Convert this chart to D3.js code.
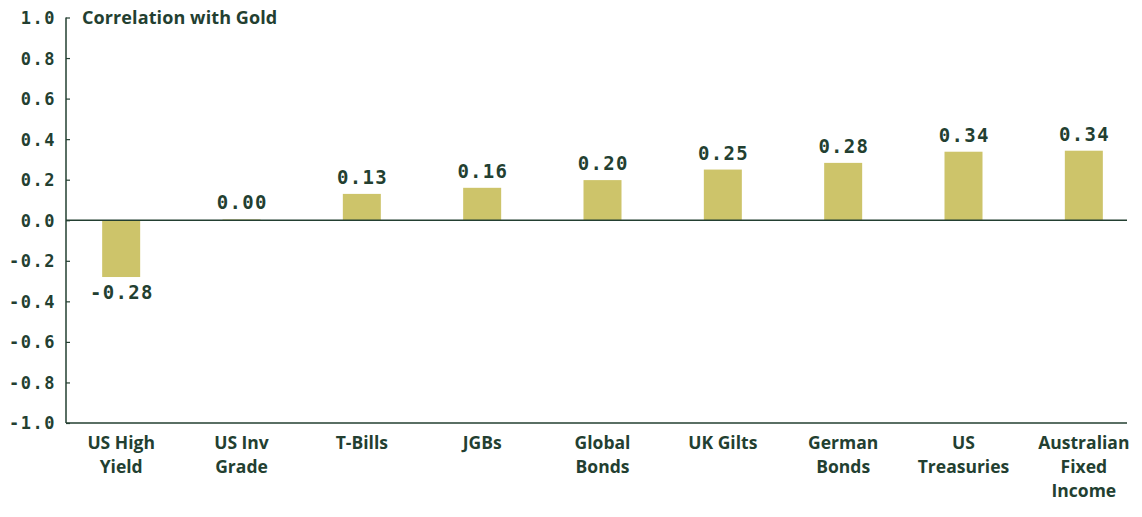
<!DOCTYPE html>
<html>
<head>
<meta charset="utf-8">
<script src="https://cdn.jsdelivr.net/npm/d3@7"></script>
<style>
  body { margin: 0; background: #fff; }
  svg { display: block; }
</style>
</head>
<body>
<div id="chart"></div>
<script>
const categories = [
  ["US High", "Yield"],
  ["US Inv", "Grade"],
  ["T-Bills"],
  ["JGBs"],
  ["Global", "Bonds"],
  ["UK Gilts"],
  ["German", "Bonds"],
  ["US", "Treasuries"],
  ["Australian", "Fixed", "Income"]
];
const correlations = [-0.28, 0.004, 0.13, 0.16, 0.198, 0.25, 0.283, 0.338, 0.343];
const yTicks = [1.0, 0.8, 0.6, 0.4, 0.2, 0.0, -0.2, -0.4, -0.6, -0.8, -1.0];
const title = "Correlation with Gold";

const W = 1142, H = 517;
const ink = "#233f31";
const barColor = "#cdc46a";
const monoFont = "'DejaVu Sans Mono', 'Liberation Mono', monospace";
const sansFont = "'Open Sans', Roboto, sans-serif";

const svg = d3.select("#chart").append("svg")
  .attr("width", W)
  .attr("height", H);

const y = d3.scaleLinear().domain([-1, 1]).range([423, 17.5]);
const x = d3.scaleBand()
  .domain(d3.range(categories.length))
  .range([61, 1144]);
const barW = 38;
const axisLeft = 66, axisRight = 1127;

// y axis
const yAxis = svg.append("g")
  .attr("transform", `translate(${axisLeft},0)`)
  .call(d3.axisRight(y).tickValues(yTicks).tickSize(4).tickFormat(d3.format(".1f")));
yAxis.select(".domain").attr("stroke", ink).attr("stroke-width", 1.5)
  .attr("d", `M0,${y(1)}V${y(-1)}`);
yAxis.selectAll(".tick line").attr("stroke", ink).attr("stroke-width", 1.2);
yAxis.selectAll(".tick text")
  .attr("x", -10)
  .attr("dy", "0.35em")
  .attr("text-anchor", "end")
  .attr("fill", ink)
  .style("font-family", monoFont)
  .style("font-weight", "bold")
  .style("font-size", "17px")
  .style("letter-spacing", "1.5px")
  .text(d => d3.format(".1f")(d).replace("−", "-"));

// bottom axis line
svg.append("line")
  .attr("x1", axisLeft).attr("x2", axisRight)
  .attr("y1", y(-1)).attr("y2", y(-1))
  .attr("stroke", ink).attr("stroke-width", 1.5);

// bars
svg.selectAll("rect.bar")
  .data(correlations)
  .enter().append("rect")
  .attr("class", "bar")
  .attr("x", (d, i) => x(i) + x.bandwidth() / 2 - barW / 2)
  .attr("y", d => y(Math.max(0, d)))
  .attr("width", barW)
  .attr("height", d => Math.abs(y(d) - y(0)))
  .attr("fill", barColor);

// zero line
svg.append("line")
  .attr("x1", axisLeft).attr("x2", axisRight)
  .attr("y1", y(0)).attr("y2", y(0))
  .attr("stroke", ink).attr("stroke-width", 1.5);

// value labels
svg.selectAll("text.value")
  .data(correlations)
  .enter().append("text")
  .attr("class", "value")
  .attr("x", (d, i) => x(i) + x.bandwidth() / 2 + 0.7)
  .attr("y", d => d >= 0 ? y(d) - 10 : y(d) + 22)
  .attr("text-anchor", "middle")
  .attr("fill", ink)
  .style("font-family", monoFont)
  .style("font-weight", "bold")
  .style("font-size", "19px")
  .style("letter-spacing", "1.3px")
  .text(d => d.toFixed(2));

// category labels
const cat = svg.selectAll("text.cat")
  .data(categories)
  .enter().append("text")
  .attr("class", "cat")
  .attr("text-anchor", "middle")
  .attr("fill", ink)
  .style("font-family", sansFont)
  .style("font-weight", "bold")
  .style("font-size", "17.5px");
cat.selectAll("tspan")
  .data((d, i) => d.map(line => ({ line, i })))
  .enter().append("tspan")
  .attr("x", d => x(d.i) + x.bandwidth() / 2)
  .attr("y", (d, j) => 449 + j * 24)
  .text(d => d.line);

// title
svg.append("text")
  .attr("x", 82)
  .attr("y", 24)
  .attr("fill", ink)
  .style("font-family", sansFont)
  .style("font-weight", "bold")
  .style("font-size", "18px")
  .style("letter-spacing", "0.1px")
  .text(title);
</script>
</body>
</html>
